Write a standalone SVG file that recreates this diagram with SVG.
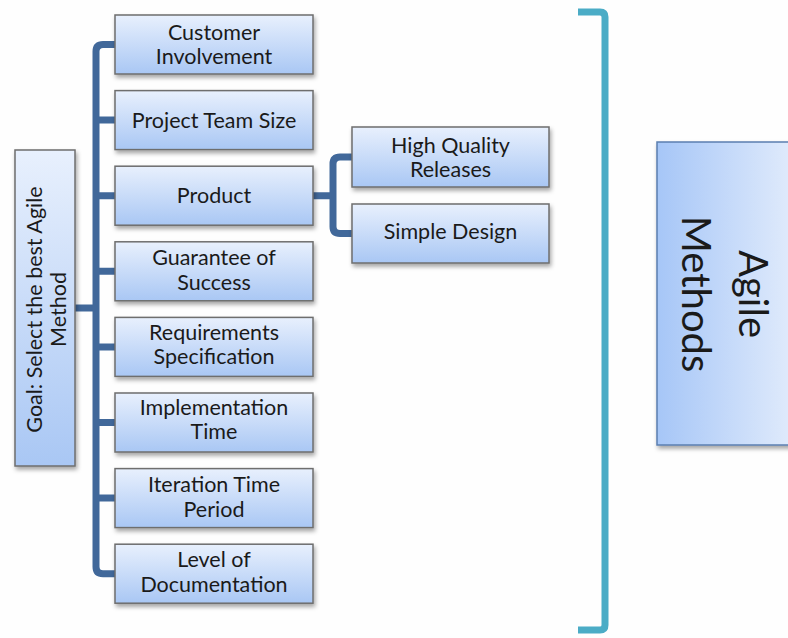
<svg xmlns="http://www.w3.org/2000/svg" width="788" height="638" viewBox="0 0 788 638">
<defs>
<linearGradient id="gv" x1="0" y1="0" x2="0" y2="1">
<stop offset="0" stop-color="#e8f0fd"/>
<stop offset="1" stop-color="#a9c7f4"/>
</linearGradient>
<linearGradient id="ga" x1="0" y1="0" x2="1" y2="0">
<stop offset="0" stop-color="#a6c6f7"/>
<stop offset="1" stop-color="#e2ecfc"/>
</linearGradient>
<filter id="sh" x="-10%" y="-10%" width="130%" height="140%">
<feDropShadow dx="1.5" dy="3" stdDeviation="2" flood-color="#000" flood-opacity="0.35"/>
</filter>
</defs>
<style>
.box{fill:url(#gv);stroke:#6e6e6e;stroke-width:1.5;filter:url(#sh)}
.t{font-family:Lato,"Open Sans","Liberation Sans",sans-serif;font-size:21.5px;fill:#1a1a1a;text-anchor:middle}
.c{fill:none;stroke:#41689a;stroke-width:7;stroke-linejoin:round}
.br{fill:none;stroke:#4bacc6;stroke-width:7}
</style>
<rect width="788" height="638" fill="#fefefe"/>
<g id="connectors">
<path class="c" d="M115,44.5 H103 Q96,44.5 96,51.5 V566.7 Q96,573.7 103,573.7 H115"/>
<path class="c" d="M96,120.1 H115 M96,195.7 H115 M96,271.3 H115 M96,346.9 H115 M96,422.5 H115 M96,498.1 H115 M75,308 H96"/>
<path class="c" d="M313,195.7 H333 M352,157 H340 Q333,157 333,164 V226.5 Q333,233.5 340,233.5 H352"/>
</g>
<g id="bracket">
<path class="br" d="M578,12 H600 Q605,12 605,17 V625 Q605,630 600,630 H578"/>
</g>
<g id="goal">
<rect x="15" y="150" width="60" height="316" fill="url(#gv)" stroke="#6e6e6e" stroke-width="1.5" filter="url(#sh)"/>
<text class="t" transform="translate(45,309.5) rotate(-90)"><tspan x="0" y="-3">Goal: Select the best Agile</tspan><tspan x="0" y="21">Method</tspan></text>
</g>
<g id="n1"><rect class="box" x="115" y="15" width="198" height="59"/><text class="t" x="214" y="40">Customer</text><text class="t" x="214" y="64">Involvement</text></g>
<g id="n2"><rect class="box" x="115" y="90.6" width="198" height="59"/><text class="t" x="214" y="128">Project Team Size</text></g>
<g id="n3"><rect class="box" x="115" y="166.2" width="198" height="59"/><text class="t" x="214" y="203">Product</text></g>
<g id="n4"><rect class="box" x="115" y="241.8" width="198" height="59"/><text class="t" x="214" y="265">Guarantee of</text><text class="t" x="214" y="290">Success</text></g>
<g id="n5"><rect class="box" x="115" y="317.4" width="198" height="59"/><text class="t" x="214" y="340">Requirements</text><text class="t" x="214" y="364">Specification</text></g>
<g id="n6"><rect class="box" x="115" y="393" width="198" height="59"/><text class="t" x="214" y="415">Implementation</text><text class="t" x="214" y="439">Time</text></g>
<g id="n7"><rect class="box" x="115" y="468.6" width="198" height="59"/><text class="t" x="214" y="492">Iteration Time</text><text class="t" x="214" y="517">Period</text></g>
<g id="n8"><rect class="box" x="115" y="544.2" width="198" height="59"/><text class="t" x="214" y="567">Level of</text><text class="t" x="214" y="592">Documentation</text></g>
<g id="s1"><rect class="box" x="352" y="127" width="197" height="60"/><text class="t" x="450.5" y="153">High Quality</text><text class="t" x="450.5" y="177">Releases</text></g>
<g id="s2"><rect class="box" x="352" y="204" width="197" height="59"/><text class="t" x="450.5" y="239">Simple Design</text></g>
<g id="agile">
<rect x="657" y="142" width="140" height="303" fill="url(#ga)" stroke="#5b7fb0" stroke-width="1.5" filter="url(#sh)"/>
<text class="t" style="font-size:40px" transform="translate(727,294) rotate(90)"><tspan x="0" y="-12">Agile</tspan><tspan x="0" y="45">Methods</tspan></text>
</g>
</svg>
